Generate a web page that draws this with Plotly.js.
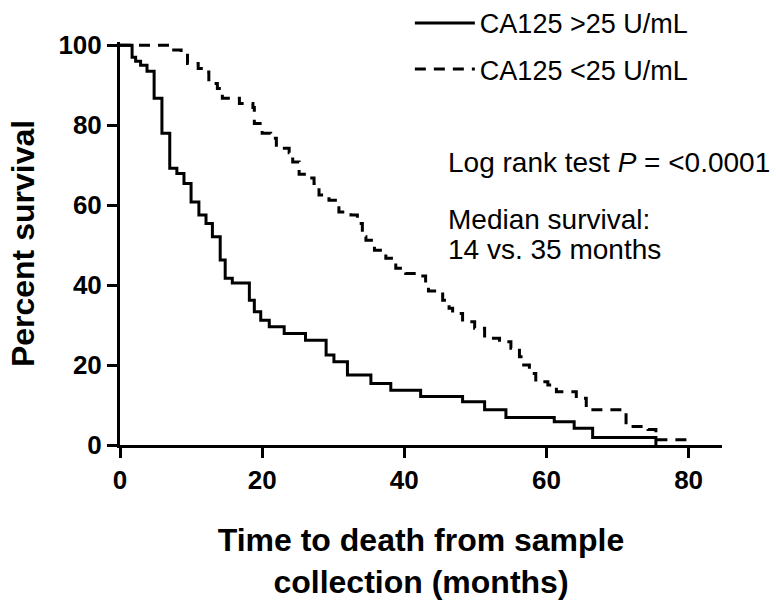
<!DOCTYPE html>
<html>
<head>
<meta charset="utf-8">
<script src="https://cdn.plot.ly/plotly-3.0.1.min.js"></script>
<style>html,body{margin:0;padding:0;background:#fff;}#chart{width:776px;height:601px;}</style>
</head>
<body>
<div id="chart"></div>
<script>
// Kaplan-Meier curves (months, percent survival)
const highMonths = [0, 1.7, 2.2, 2.9, 3.8, 4.8, 5.9, 7.0, 8.0, 9.0, 10.0, 11.1, 12.1, 13.0, 14.1, 14.8, 15.8, 18.2, 18.9, 19.8, 21.0, 23.1, 26.1, 29.0, 30.1, 32.0, 35.3, 38.1, 42.3, 48.2, 51.3, 54.3, 61.1, 63.9, 66.5, 75.4];
const highSurvival = [100, 97, 96, 95, 93.5, 86.7, 78, 69.2, 67.9, 65.4, 60.8, 57.5, 55.4, 52.1, 46.3, 41.7, 40.5, 36.2, 33.3, 31.2, 29.6, 27.9, 26.2, 22.5, 20.8, 17.5, 15.4, 13.7, 12.1, 10.8, 8.8, 6.9, 5.8, 4.2, 1.9, 0];

const lowMonths = [0, 7.3, 8.6, 9.5, 11.0, 12.1, 12.5, 13.7, 14.4, 16.8, 18.7, 18.9, 20.0, 21.2, 22.0, 23.8, 24.3, 25.2, 26.6, 27.3, 28.0, 29.4, 30.6, 30.8, 32.5, 33.4, 34.1, 34.6, 35.8, 37.4, 38.8, 40.2, 42.1, 43.0, 43.4, 45.4, 46.3, 46.8, 48.2, 49.9, 51.3, 53.4, 55.0, 56.2, 56.8, 57.6, 58.5, 60.2, 61.4, 64.2, 65.6, 71.2, 74.3, 75.4, 80.0];
const lowSurvival = [100, 98.8, 97.9, 95.4, 94.2, 93.3, 90.4, 89.2, 86.7, 85.4, 84.4, 80.4, 78, 76.7, 74.2, 73.1, 70.8, 67.7, 66.8, 65.4, 62.5, 61.2, 60, 58.3, 57.5, 55.4, 52.1, 51.2, 48.7, 46.7, 44.2, 42.9, 42.3, 40.0, 38.5, 36.2, 34.2, 32.9, 30.8, 29.2, 26.7, 25.8, 24.2, 22.1, 20, 17.9, 15.8, 15, 13.3, 11.7, 8.8, 4.6, 3.9, 1.3, 0];

const seriesNames = ["CA125 >25 U/mL", "CA125 <25 U/mL"];
const xTicks = [0, 20, 40, 60, 80];
const yTicks = [0, 20, 40, 60, 80, 100];

const FONT = "Liberation Sans, Arial, Helvetica, sans-serif";

const traces = [
  {
    x: highMonths, y: highSurvival, name: seriesNames[0], legendgroup: "a",
    type: "scatter", mode: "lines", line: {shape: "hv", color: "#000", width: 3}
  },
  {
    x: lowMonths, y: lowSurvival, name: seriesNames[1], legendgroup: "b",
    type: "scatter", mode: "lines", line: {shape: "hv", color: "#000", width: 3, dash: "11px,8px"}
  }
];

const layout = {
  width: 776, height: 601,
  margin: {l: 120, r: 54, t: 42, b: 156, autoexpand: false},
  paper_bgcolor: "#fff", plot_bgcolor: "#fff",
  font: {family: FONT, color: "#000"},
  showlegend: true,
  legend: {
    x: 0.4815, y: 1.107, xanchor: "left", yanchor: "top",
    font: {family: FONT, size: 27, color: "#000"},
    tracegroupgap: 8, itemwidth: 60, bgcolor: "rgba(0,0,0,0)"
  },
  xaxis: {
    range: [0, 84.7], tickvals: xTicks, ticktext: xTicks.map(String),
    showline: true, linewidth: 3, linecolor: "#000", mirror: false,
    ticks: "outside", ticklen: 10, tickwidth: 3, tickcolor: "#000",
    showgrid: false, zeroline: false,
    tickfont: {family: FONT, size: 26, weight: "bold", color: "#000"},
    title: {text: "Time to death from sample<br>collection (months)", standoff: 35,
            font: {family: FONT, size: 32, weight: "bold", color: "#000"}}
  },
  yaxis: {
    range: [0, 100.8], tickvals: yTicks, ticktext: yTicks.map(String),
    showline: true, linewidth: 3, linecolor: "#000",
    ticks: "outside", ticklen: 10, tickwidth: 3, tickcolor: "#000",
    showgrid: false, zeroline: false,
    tickfont: {family: FONT, size: 26, weight: "bold", color: "#000"},
    title: {text: "Percent survival", standoff: 15,
            font: {family: FONT, size: 32, weight: "bold", color: "#000"}}
  },
  annotations: [
    {xref: "paper", yref: "paper", x: (446 - 120) / 602, y: (445 - 163) / 403,
     xanchor: "left", yanchor: "middle", showarrow: false,
     text: "Log rank test <i>P</i> = &lt;0.0001", font: {family: FONT, size: 28, color: "#000"}},
    {xref: "paper", yref: "paper", x: (446 - 120) / 602, y: (445 - 219) / 403,
     xanchor: "left", yanchor: "middle", showarrow: false,
     text: "Median survival:", font: {family: FONT, size: 28, color: "#000"}},
    {xref: "paper", yref: "paper", x: (446 - 120) / 602, y: (445 - 249) / 403,
     xanchor: "left", yanchor: "middle", showarrow: false,
     text: "14 vs. 35 months", font: {family: FONT, size: 28, color: "#000"}}
  ]
};

Plotly.newPlot("chart", traces, layout, {displayModeBar: false, staticPlot: true});
</script>
</body>
</html>
